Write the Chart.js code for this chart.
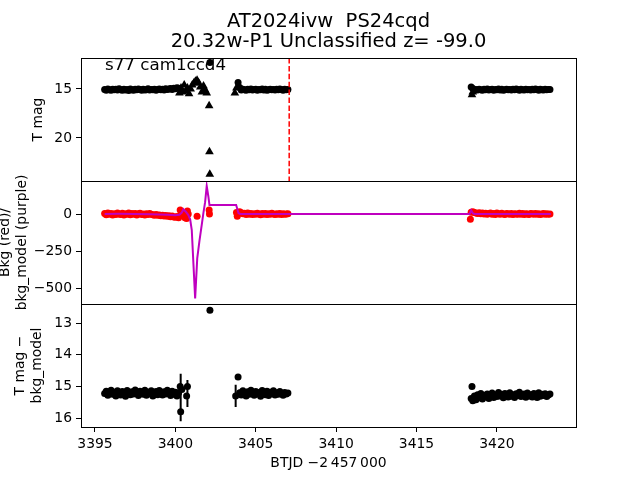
<!DOCTYPE html>
<html>
<head>
<meta charset="utf-8">
<script src="https://cdn.jsdelivr.net/npm/chart.js@4.4.1/dist/chart.umd.min.js"></script>
<style>
html,body{margin:0;padding:0;background:#fff}
#wrap{position:relative;width:640px;height:480px}
#wrap canvas{position:absolute;left:0;top:0}
</style>
</head>
<body>
<div id="wrap">
<canvas id="c1" width="640" height="480"></canvas>
<canvas id="c2" width="640" height="480"></canvas>
<canvas id="c3" width="640" height="480"></canvas>
</div>
<script>
// light curve of AT2024ivw - three stacked panels sharing the time axis
const titleLines = ['AT2024ivw  PS24cqd', '20.32w-P1 Unclassified z= -99.0'];
const fieldLabel = 's77 cam1ccd4';
const discoveryTime = 3407.08;

const xTicks = [3395, 3400, 3405, 3410, 3415, 3420];
const magTicks = [15, 20];
const bkgTicks = [0, -250, -500];
const diffTicks = [13, 14, 15, 16];

// three orbits of sector 77
const timesA = [
  3395.6,3395.7,3395.8,3395.9,3396.0,3396.1,3396.2,3396.3,3396.4,3396.5,
  3396.6,3396.7,3396.8,3396.9,3397.0,3397.1,3397.2,3397.3,3397.4,3397.5,
  3397.6,3397.7,3397.8,3397.9,3398.0,3398.1,3398.2,3398.3,3398.4,3398.5,
  3398.6,3398.7,3398.8,3398.9,3399.0,3399.1,3399.2,3399.3,3399.4,3399.5,
  3399.6,3399.7,3399.8,3399.9,3400.0,3400.1,3400.2
];
const timesB = [
  3404.0,3404.1,3404.2,3404.3,3404.4,3404.5,3404.6,3404.7,3404.8,3404.9,
  3405.0,3405.1,3405.2,3405.3,3405.4,3405.5,3405.6,3405.7,3405.8,3405.9,
  3406.0,3406.1,3406.2,3406.3,3406.4,3406.5,3406.6,3406.7,3406.8,3406.9,
  3407.0
];
const timesC = [
  3418.4,3418.5,3418.6,3418.7,3418.8,3418.9,3419.0,3419.1,3419.2,3419.3,
  3419.4,3419.5,3419.6,3419.7,3419.8,3419.9,3420.0,3420.1,3420.2,3420.3,
  3420.4,3420.5,3420.6,3420.7,3420.8,3420.9,3421.0,3421.1,3421.2,3421.3,
  3421.4,3421.5,3421.6,3421.7,3421.8,3421.9,3422.0,3422.1,3422.2,3422.3,
  3422.4,3422.5,3422.6,3422.7,3422.8,3422.9,3423.0,3423.1,3423.2,3423.3
];

// T mag
const tMagA = [
  15.05,15.12,15.00,15.08,15.14,15.02,15.09,15.04,15.11,14.99,
  15.07,15.13,15.03,15.10,15.05,15.15,15.01,15.08,15.12,15.04,
  15.09,15.00,15.06,15.13,15.03,15.10,15.07,14.98,15.11,15.05,
  15.08,15.02,15.12,15.06,15.00,15.09,15.04,15.10,14.97,15.06,
  15.01,14.95,15.05,14.93,14.98,14.88,14.92
];
const tMagB = [
  14.85,15.10,15.02,15.08,15.13,15.04,15.09,15.01,15.11,15.06,
  15.03,15.12,15.05,15.08,15.00,15.10,15.04,15.13,15.07,15.02,
  15.09,15.05,15.11,15.03,15.08,15.01,15.06,15.12,15.04,15.07,
  15.05
];
const tMagC = [
  14.80,14.95,15.12,15.05,15.10,15.02,15.08,15.13,15.04,15.09,
  15.01,15.11,15.06,15.03,15.12,15.05,15.08,15.00,15.10,15.04,
  15.13,15.07,15.02,15.09,15.05,15.11,15.03,15.08,15.01,15.06,
  15.12,15.04,15.07,15.10,15.02,15.09,15.05,15.11,15.03,15.08,
  15.00,15.06,15.12,15.04,15.07,15.10,15.02,15.09,15.05,15.06
];

// background flux
const bkgA = [
  3,-5,6,-2,4,-6,1,-3,7,0,
  -4,5,-7,2,-1,6,-5,3,-2,4,
  -6,1,5,-3,0,-7,2,-4,3,-1,
  -5,-8,-3,-9,-6,-11,-8,-13,-10,-15,
  -12,-18,-14,-20,-22,-17,-25
];
const bkgB = [
  15,8,2,5,-3,6,-1,4,-4,2,
  -2,5,0,-5,3,-1,4,-3,1,-2,
  5,0,-4,2,-1,3,-3,1,-2,0,
  2
];
const bkgC = [
  12,15,10,7,4,8,2,6,0,5,
  -2,3,7,-1,4,-3,6,1,-2,5,
  0,-4,3,1,-1,4,-3,2,0,-2,
  5,-1,3,-4,2,0,-3,4,1,-2,
  3,-1,2,-3,0,4,-2,1,-1,0
];

// T mag - bkg_model
const diffA = [
  15.22,15.15,15.28,15.19,15.12,15.25,15.18,15.30,15.14,15.21,
  15.27,15.16,15.23,15.31,15.13,15.20,15.26,15.17,15.24,15.11,
  15.22,15.29,15.15,15.19,15.25,15.12,15.28,15.18,15.23,15.14,
  15.30,15.20,15.16,15.26,15.13,15.22,15.27,15.17,15.24,15.12,
  15.21,15.29,15.15,15.25,15.18,15.30,15.20
];
const diffB = [
  15.20,15.27,15.14,15.23,15.30,15.17,15.25,15.12,15.21,15.28,
  15.16,15.24,15.19,15.31,15.13,15.22,15.26,15.15,15.29,15.18,
  15.23,15.14,15.27,15.20,15.25,15.16,15.22,15.28,15.19,15.24,
  15.21
];
const diffC = [
  15.38,15.45,15.30,15.42,15.26,15.36,15.22,15.40,15.28,15.33,
  15.24,15.38,15.29,15.21,15.35,15.27,15.32,15.19,15.30,15.25,
  15.36,15.22,15.28,15.33,15.20,15.31,15.26,15.35,15.23,15.29,
  15.18,15.32,15.27,15.24,15.34,15.21,15.30,15.26,15.33,15.22,
  15.28,15.35,15.20,15.31,15.25,15.29,15.23,15.32,15.27,15.24
];

// top panel: upper limits (triangles) and stray points
const limTimes = [3400.25,3400.35,3400.45,3400.55,3400.65,3400.75,3400.85,3400.95,3401.05,3401.15,
  3401.25,3401.35,3401.45,3401.55,3401.65,3401.75,3401.85,3401.95,3402.1,3402.12,3402.14,
  3403.7,3403.8,3418.45,3418.5];
const limMag = [15.4,14.9,15.3,14.6,15.2,14.9,15.5,15.0,14.6,14.4,
  14.2,14.1,14.4,14.8,15.3,14.7,15.1,15.4,16.7,21.4,23.7,
  15.4,14.9,15.6,15.3];
const magExtraTimes = [3402.15, 3403.9];
const magExtraVals = [12.3, 14.35];

// middle panel: stray background points and background model
const bkgExtraTimes = [3400.3,3400.35,3400.45,3400.6,3400.7,3400.75,3400.8,3401.35,3402.1,3402.12,3403.8,3403.85,3418.35];
const bkgExtraVals = [27,-10,5,-25,-30,20,0,-15,27,0,10,-15,-35];
const modelTimes = [3395.6,3396.5,3397.5,3398.5,3399.0,3399.5,3400.0,3400.25,3400.4,3400.5,3400.65,3400.8,
  3400.92,3401.02,3401.12,3401.23,3401.36,3401.5,3401.64,3401.74,3401.85,3401.95,3402.05,3402.12,
  3403.0,3403.78,3403.93,3404.05,3407.0,3418.3,3418.4,3418.5,3418.6,3423.35];
const modelVals = [0,1,0,-2,-3,-5,-8,-5,10,32,15,-5,
  -36,-108,-330,-570,-300,-180,-74,5,80,189,120,61,
  61,61,5,0,0,0,25,5,0,0];

// bottom panel: stray points and error bars
const diffExtraTimes = [3400.3,3400.33,3400.4,3400.7,3400.75,3402.15,3403.75,3403.9,3418.45];
const diffExtraVals = [15.0,15.8,15.1,15.3,15.0,12.6,15.3,14.7,15.0];
const errTimes = [3400.33, 3400.75, 3403.75];
const errLow = [14.6, 14.8, 14.95];
const errHigh = [16.1, 15.65, 15.65];

const xMin = 3394.13, xMax = 3424.92;
const magMin = 11.84, magMax = 24.39;
const bkgMin = -608, bkgMax = 223;
const diffMin = 12.4, diffMax = 16.28;

const FONT = 'DejaVu Sans';
const times = timesA.concat(timesB, timesC);
const tMag = tMagA.concat(tMagB, tMagC);
const bkg = bkgA.concat(bkgB, bkgC);
const tMagDiff = diffA.concat(diffB, diffC);
const pts = (xs, ys) => xs.map((x, i) => ({x: x, y: ys[i]}));
const fmt = v => v < 0 ? '\u2212' + Math.abs(v) : String(v);

const frame = {
  id: 'frame',
  afterDraw(chart){
    const {ctx, chartArea: a} = chart;
    ctx.save();
    ctx.strokeStyle = '#000';
    ctx.lineWidth = 1;
    ctx.strokeRect(Math.round(a.left) + 0.5, Math.round(a.top) + 0.5,
      Math.round(a.right - a.left), Math.round(a.bottom - a.top));
    ctx.restore();
  }
};

const fieldText = {
  id: 'fieldText',
  afterDatasetsDraw(chart){
    const {ctx, chartArea: a} = chart;
    ctx.save();
    ctx.beginPath();
    ctx.rect(a.left, a.top, a.right - a.left, a.bottom - a.top);
    ctx.clip();
    ctx.font = '16.7px "' + FONT + '"';
    ctx.fillStyle = '#000';
    ctx.textBaseline = 'alphabetic';
    ctx.fillText(fieldLabel, a.left + 24, a.top + 12);
    ctx.restore();
  }
};

function yScale(min, max, reverse, ticks, title, pad){
  return {
    min: min, max: max, reverse: reverse,
    afterFit: s => { s.width = 81; },
    afterBuildTicks: s => { s.ticks = ticks.map(v => ({value: v})); },
    ticks: {color: '#000', font: {family: FONT, size: 13.9}, padding: 4, callback: fmt},
    grid: {drawOnChartArea: false, tickLength: 5, tickColor: '#000'},
    border: {display: false},
    title: {display: true, text: title, color: '#000',
      font: {family: FONT, size: 13.9, lineHeight: 1.25}, padding: {top: pad, bottom: 0}}
  };
}

function xScale(show){
  return {
    type: 'linear', min: xMin, max: xMax, display: show,
    afterFit: s => { s.height = show ? 53 : 0; },
    afterBuildTicks: s => { s.ticks = xTicks.map(v => ({value: v})); },
    ticks: {color: '#000', font: {family: FONT, size: 13.9}, padding: 4, maxRotation: 0, callback: v => String(v)},
    grid: {drawOnChartArea: false, tickLength: 5, tickColor: '#000'},
    border: {display: false},
    title: {display: show, text: 'BTJD \u22122\u2009457\u2009000', color: '#000',
      font: {family: FONT, size: 13.9, lineHeight: 1.25}, padding: {top: 0, bottom: 8.3}}
  };
}

const base = {
  responsive: false, animation: false, devicePixelRatio: 1,
  events: [],
};

// panel 1: T mag
new Chart(document.getElementById('c1'), {
  type: 'scatter',
  data: {datasets: [
    {data: [{x: discoveryTime, y: magMin}, {x: discoveryTime, y: magMax}], showLine: true,
      borderColor: '#ff0000', borderWidth: 1.5, borderDash: [5.5, 2.4], pointRadius: 0},
    {data: pts(times, tMag), pointRadius: 3.5, backgroundColor: '#000', borderWidth: 0},
    {data: pts(magExtraTimes, magExtraVals), pointRadius: 3.5, backgroundColor: '#000', borderWidth: 0},
    {data: pts(limTimes, limMag), pointStyle: 'triangle', pointRadius: 5, backgroundColor: '#000', borderWidth: 0}
  ]},
  options: Object.assign({}, base, {
    layout: {padding: {top: 5, left: 0, right: 64, bottom: 299}},
    plugins: {
      legend: {display: false}, tooltip: {enabled: false},
      title: {display: true, fullSize: false, text: titleLines, color: '#000',
        font: {family: FONT, size: 19.5, weight: 'normal', lineHeight: 1.0}, padding: {top: 7.5, bottom: 6.5}}
    },
    scales: {x: xScale(false), y: yScale(magMin, magMax, true, magTicks, 'T mag', 29.3)}
  }),
  plugins: [frame, fieldText]
});

// panel 2: background and background model
new Chart(document.getElementById('c2'), {
  type: 'scatter',
  data: {datasets: [
    {data: pts(modelTimes, modelVals), showLine: true, borderColor: '#bf00bf', borderWidth: 2, pointRadius: 0},
    {data: pts(times, bkg), pointRadius: 3.5, backgroundColor: '#ff0000', borderWidth: 0},
    {data: pts(bkgExtraTimes, bkgExtraVals), pointRadius: 3.5, backgroundColor: '#ff0000', borderWidth: 0}
  ]},
  options: Object.assign({}, base, {
    layout: {padding: {top: 181, left: 0, right: 64, bottom: 176}},
    plugins: {legend: {display: false}, tooltip: {enabled: false}},
    scales: {x: xScale(false), y: yScale(bkgMin, bkgMax, false, bkgTicks, ['Bkg (red)/', 'bkg_model (purple)'], -3.7)}
  }),
  plugins: [frame]
});

// panel 3: T mag minus background model
const errData = [];
errTimes.forEach((t, i) => { errData.push({x: t, y: errLow[i]}, {x: t, y: errHigh[i]}, {x: t, y: null}); });

new Chart(document.getElementById('c3'), {
  type: 'scatter',
  data: {datasets: [
    {data: errData, showLine: true, spanGaps: false, borderColor: '#000', borderWidth: 2, pointRadius: 0},
    {data: pts(times, tMagDiff), pointRadius: 3.5, backgroundColor: '#000', borderWidth: 0},
    {data: pts(diffExtraTimes, diffExtraVals), pointRadius: 3.5, backgroundColor: '#000', borderWidth: 0}
  ]},
  options: Object.assign({}, base, {
    layout: {padding: {top: 304, left: 0, right: 64, bottom: 0}},
    plugins: {legend: {display: false}, tooltip: {enabled: false}},
    scales: {x: xScale(true), y: yScale(diffMin, diffMax, true, diffTicks, ['T mag \u2212', 'bkg_model'], 11.3)}
  }),
  plugins: [frame]
});
</script>
</body>
</html>
